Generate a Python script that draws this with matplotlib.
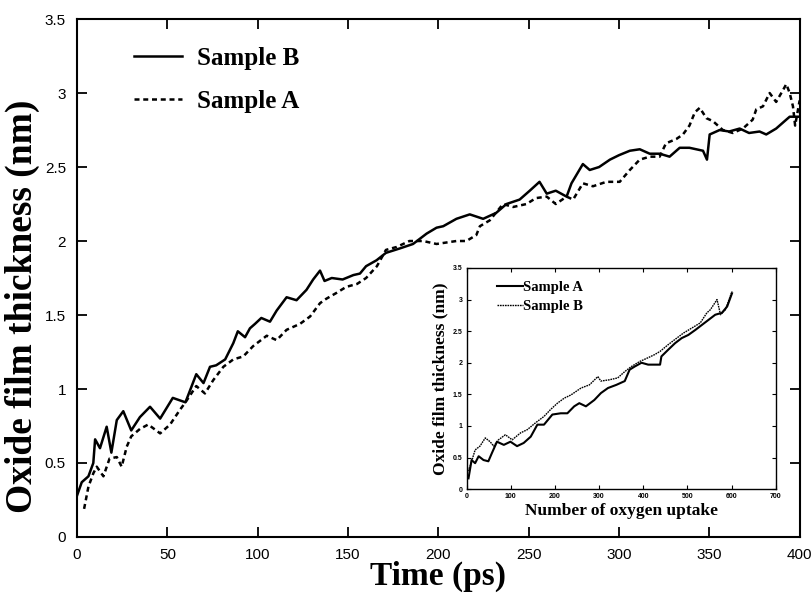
import matplotlib
matplotlib.use("Agg")
import matplotlib.pyplot as plt

# main plot: oxide thickness vs time
time_b = [0, 2.6, 6.3, 9, 10, 12.7, 16.4, 19, 22, 25.6, 30, 34.8, 40.4, 46, 53,
          60, 66, 70, 73.6, 77, 82, 86.5, 89, 93, 95.7, 98.5, 102, 106.8, 110.5,
          116, 121.5, 127, 130.7, 134.5, 137, 141, 147, 153, 156.6, 160, 165.8,
          171, 178.7, 186, 193.5, 199, 202.7, 210, 217.4, 224.8, 232, 237.7, 245,
          250.6, 256, 260, 265, 271, 273.7, 280, 283.8, 289, 295, 300, 306,
          311.5, 317, 322.5, 328, 333.6, 339, 346.5, 348.7, 350.2, 355.7, 361,
          366.8, 372, 377.8, 381.5, 387, 392.6, 394.5, 399]
thick_b = [0.28, 0.37, 0.41, 0.50, 0.66, 0.60, 0.745, 0.57, 0.79, 0.85, 0.72,
           0.81, 0.88, 0.80, 0.94, 0.91, 1.10, 1.04, 1.15, 1.16, 1.20, 1.31, 1.39,
           1.35, 1.41, 1.44, 1.48, 1.455, 1.53, 1.62, 1.60, 1.67, 1.74, 1.80,
           1.73, 1.75, 1.74, 1.77, 1.78, 1.83, 1.87, 1.92, 1.95, 1.98, 2.05, 2.09,
           2.10, 2.15, 2.18, 2.15, 2.19, 2.25, 2.28, 2.34, 2.40, 2.32, 2.34, 2.30,
           2.39, 2.52, 2.48, 2.50, 2.55, 2.58, 2.61, 2.62, 2.59, 2.59, 2.57, 2.63,
           2.63, 2.61, 2.55, 2.72, 2.75, 2.74, 2.76, 2.73, 2.74, 2.72, 2.76, 2.82,
           2.84, 2.84]

time_a = [3.9, 6.3, 9, 10.9, 14.6, 18, 22, 24.7, 27.5, 30, 34.8, 39.4, 46, 51.5,
          57, 60, 66, 70.8, 75.4, 81, 86.5, 92, 97.5, 105, 110.5, 116, 123.4, 129,
          134.5, 138, 143.7, 149, 155, 160, 166, 171, 177, 184, 191.6, 199, 210,
          215.5, 221, 223, 228.5, 235.8, 241.4, 248.8, 254, 260, 265, 271, 274.6,
          280, 285.6, 293, 300.4, 306, 311.5, 317, 322.5, 326, 331.8, 335.4, 339,
          342, 344.7, 348.4, 352, 357.5, 363, 368.6, 374, 376, 379.7, 383.4, 387,
          390.8, 392.6, 394.5, 396.3, 397.5, 400]
thick_a = [0.19, 0.34, 0.43, 0.475, 0.41, 0.53, 0.54, 0.475, 0.61, 0.68, 0.73,
           0.76, 0.70, 0.76, 0.86, 0.91, 1.02, 0.97, 1.06, 1.15, 1.20, 1.22, 1.29,
           1.36, 1.33, 1.40, 1.44, 1.49, 1.58, 1.61, 1.65, 1.69, 1.71, 1.75, 1.83,
           1.94, 1.96, 2.00, 2.00, 1.98, 2.00, 2.00, 2.04, 2.10, 2.14, 2.25, 2.23,
           2.25, 2.29, 2.30, 2.25, 2.30, 2.28, 2.39, 2.37, 2.40, 2.40, 2.48, 2.55,
           2.57, 2.57, 2.66, 2.69, 2.72, 2.78, 2.87, 2.90, 2.83, 2.81, 2.75, 2.73,
           2.76, 2.82, 2.89, 2.91, 3.00, 2.94, 3.02, 3.06, 3.00, 2.91, 2.78, 2.95]

# inset: thickness vs number of oxygen uptake
uptake_a = [4, 11, 19, 27, 38, 49, 57, 68.5, 84, 99, 114, 129, 145, 160, 175,
            194, 213, 228, 243.5, 255, 270, 289, 304, 320, 339, 358, 369, 380.5,
            396, 411, 426, 438, 441, 457, 472, 487, 502, 518, 533, 548, 563, 578,
            590, 601]
ins_a = [0.17, 0.46, 0.41, 0.52, 0.46, 0.44, 0.57, 0.75, 0.70, 0.75, 0.68, 0.73,
         0.83, 1.02, 1.02, 1.18, 1.20, 1.20, 1.31, 1.36, 1.31, 1.41, 1.52, 1.60,
         1.65, 1.71, 1.89, 1.94, 2.00, 1.97, 1.97, 1.97, 2.10, 2.21, 2.31, 2.39,
         2.44, 2.52, 2.60, 2.68, 2.76, 2.79, 2.89, 3.10]
uptake_b = [0, 7.6, 19, 30, 42, 53, 61, 72, 87.5, 103, 122, 137, 156, 175, 190,
            205.5, 221, 236, 259, 278, 297, 304, 323, 342, 358, 373, 392, 411,
            426, 438, 457, 472, 491, 510, 529, 544, 552, 567, 575, 586, 601]
ins_b = [0.25, 0.36, 0.62, 0.68, 0.81, 0.75, 0.68, 0.78, 0.86, 0.78, 0.89, 0.94,
         1.05, 1.15, 1.26, 1.36, 1.44, 1.49, 1.60, 1.65, 1.78, 1.71, 1.73, 1.76,
         1.86, 1.94, 2.02, 2.08, 2.13, 2.18, 2.29, 2.37, 2.47, 2.55, 2.63, 2.79,
         2.84, 3.00, 2.76, 2.84, 3.13]

serif = "Liberation Serif"
sans = "Liberation Sans"

fig = plt.figure(figsize=(8.11, 5.95), dpi=100)
ax = fig.add_axes([0.095, 0.0975, 0.891, 0.8705])

ax.plot(time_b, thick_b, color="black", lw=1.8, label="Sample B")
ax.plot(time_a, thick_a, color="black", lw=1.8, ls=(0, (2, 1.5)), label="Sample A")

ax.set_xlim(0, 400)
ax.set_ylim(0, 3.5)
ax.set_xticks(range(0, 401, 50))
ax.set_yticks([0, 0.5, 1, 1.5, 2, 2.5, 3, 3.5])
ax.set_yticklabels(["0", "0.5", "1", "1.5", "2", "2.5", "3", "3.5"])
ax.tick_params(direction="in", length=7, width=1.3, top=True, right=True,
               labelsize=11, pad=8)
for lab in ax.get_xticklabels() + ax.get_yticklabels():
    lab.set_family(sans)
for sp in ax.spines.values():
    sp.set_linewidth(1.5)

ax.set_xlabel("Time (ps)", family=serif, weight="bold", fontsize=24)
ax.xaxis.set_label_coords(0.5, -0.046)
ax.set_ylabel("Oxide film thickness (nm)", family=serif, weight="bold",
              fontsize=27, va="center")
ax.yaxis.set_label_coords(-0.076, 0.445)

ax.legend(loc="upper left", bbox_to_anchor=(0.048, 0.99), frameon=False,
          prop={"family": serif, "weight": "bold", "size": 18},
          handlelength=1.9, handletextpad=0.6, labelspacing=0.8)

# inset
ins = fig.add_axes([0.5755, 0.178, 0.381, 0.3716])
ins.plot(uptake_a, ins_a, color="black", lw=1.5, label="Sample A")
ins.plot(uptake_b, ins_b, color="black", lw=1.0, ls=(0, (1.2, 0.6)), label="Sample B")
ins.set_xlim(0, 700)
ins.set_ylim(0, 3.5)
ins.set_xticks(range(0, 701, 100))
ins.set_yticks([0, 0.5, 1, 1.5, 2, 2.5, 3, 3.5])
ins.set_yticklabels(["0", "0.5", "1", "1.5", "2", "2.5", "3", "3.5"])
ins.tick_params(direction="in", length=3, width=0.8, top=True, right=True,
                labelsize=5, pad=3)
for lab in ins.get_xticklabels() + ins.get_yticklabels():
    lab.set_family(sans)
    lab.set_weight("bold")
for sp in ins.spines.values():
    sp.set_linewidth(1.0)
ins.set_xlabel("Number of oxygen uptake", family=serif, weight="bold",
               fontsize=12.5, labelpad=2)
ins.set_ylabel("Oxide film thickness (nm)", family=serif, weight="bold",
               fontsize=12.5, labelpad=3)
ins.legend(loc="upper left", bbox_to_anchor=(0.055, 1.0), frameon=False,
           prop={"family": serif, "weight": "bold", "size": 10.5},
           handlelength=1.8, handletextpad=0.0, labelspacing=0.35)

fig.savefig("out.png", dpi=100)
